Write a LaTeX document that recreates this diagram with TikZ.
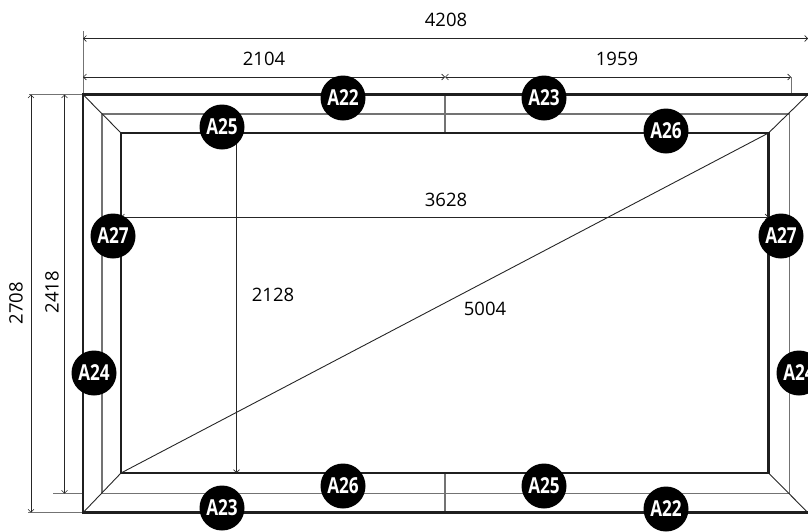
\documentclass[tikz,border=0pt]{standalone}
\usepackage{fontspec}
\setmainfont{Open Sans}
\usetikzlibrary{arrows.meta}
\tikzset{
  x=1pt,y=-1pt,
  frameline/.style={draw=black!88,line width=2.5pt},
  midline/.style={draw=black!55,line width=1.3pt},
  thinline/.style={draw=black!85,line width=0.9pt},
  extline/.style={draw=black!55,line width=1pt},
  dimline/.style={draw=black!85,line width=0.9pt,{Straight Barb[length=3pt,width=6pt,line width=0.6pt]}-{Straight Barb[length=3pt,width=6pt,line width=0.6pt]}},
  label/.style={inner sep=0pt,font=\fontsize{18.5}{20}\selectfont,text=black},
  badge/.style={circle,fill=black,minimum size=45pt,inner sep=0pt,text=white,font=\fontsize{22}{24}\selectfont\bfseries}
}
\newcommand{\bd}[1]{\scalebox{0.78}[1]{#1}}
\begin{document}
\begin{tikzpicture}
\useasboundingbox (0,0) rectangle (808,531);
\clip (0,0) rectangle (808,531);
% corner coordinates
\coordinate (otl) at (83,94.5); \coordinate (otr) at (808,94.5);
\coordinate (obl) at (83,512.7); \coordinate (obr) at (808,512.7);
\coordinate (mtl) at (102,114); \coordinate (mtr) at (789.5,114);
\coordinate (mbl) at (102,493.7); \coordinate (mbr) at (789.5,493.7);
\coordinate (itl) at (121,133); \coordinate (itr) at (768.5,133);
\coordinate (ibl) at (121,473); \coordinate (ibr) at (768.5,473);
% extension lines
\coordinate (e1) at (83,31); \coordinate (e2) at (29,94.5); \coordinate (e3) at (28,512.7);
\coordinate (e4) at (53,493.7); \coordinate (e5) at (791,77); \coordinate (e6) at (791,94.5);
\draw[extline] (e1) -- (otl); \draw[extline] (e2) -- (otl);
\draw[extline] (e3) -- (obl); \draw[extline] (e4) -- (83,493.7);
\draw[extline] (e5) -- (e6);
% middle frame
\draw[midline] (mtl) -- (mtr) (mbl) -- (mbr) (mtl) -- (mbl) (mtr) -- (mbr);
% mid separators
\coordinate (st1) at (445,94.5); \coordinate (st2) at (445,133);
\coordinate (sb1) at (445,473); \coordinate (sb2) at (445,512.7);
\draw[extline,line width=1.3pt] (st1) -- (st2) (sb1) -- (sb2);
% mitres
\draw[thinline] (otl) -- (itl) (otr) -- (itr) (obl) -- (ibl) (obr) -- (ibr);
% frames
\draw[frameline] (obr) -- (obl) -- (otl) -- (otr);
\draw[frameline] (itl) rectangle (ibr);
% dimensions
\coordinate (d1a) at (83,38.5); \coordinate (d1b) at (808,38.5);
\coordinate (d2a) at (83,77); \coordinate (d2b) at (445,77); \coordinate (d2c) at (791,77);
\coordinate (d3a) at (31,94.5); \coordinate (d3b) at (31,512.7);
\coordinate (d4a) at (64.5,94.5); \coordinate (d4b) at (64.5,493.7);
\coordinate (d5a) at (236.5,133); \coordinate (d5b) at (236.5,473);
\coordinate (d6a) at (121,217); \coordinate (d6b) at (768.5,217);
\draw[dimline] (d1a) -- (d1b);
\draw[dimline] (d2a) -- (d2b);
\draw[dimline] (d2b) -- (d2c);
\draw[dimline] (d3a) -- (d3b);
\draw[dimline] (d4a) -- (d4b);
\draw[dimline] (d5a) -- (d5b);
\draw[dimline] (d6a) -- (d6b);
\draw[thinline] (ibl) -- (itr);
% labels
\node[label] (t4208) at (446,20) {4208};
\node[label] (t2104) at (264,59) {2104};
\node[label] (t1959) at (617,59) {1959};
\node[label] (t3628) at (446,200) {3628};
\node[label] (t2128) at (273,295) {2128};
\node[label] (t5004) at (485,309) {5004};
\node[label,rotate=90] (t2708) at (16,303) {2708};
\node[label,rotate=90] (t2418) at (52,292) {2418};
% badges
\node[badge] (b1) at (343,98) {\bd{A22}};
\node[badge] (b2) at (544,98) {\bd{A23}};
\node[badge] (b3) at (222,127) {\bd{A25}};
\node[badge] (b4) at (666,131) {\bd{A26}};
\node[badge] (b5) at (113,236) {\bd{A27}};
\node[badge] (b6) at (781,236) {\bd{A27}};
\node[badge] (b7) at (94,373) {\bd{A24}};
\node[badge] (b8) at (799,373) {\bd{A24}};
\node[badge] (b9) at (343,486) {\bd{A26}};
\node[badge] (b10) at (544,486) {\bd{A25}};
\node[badge] (b11) at (222,508) {\bd{A23}};
\node[badge] (b12) at (666,509) {\bd{A22}};
\end{tikzpicture}
\end{document}
